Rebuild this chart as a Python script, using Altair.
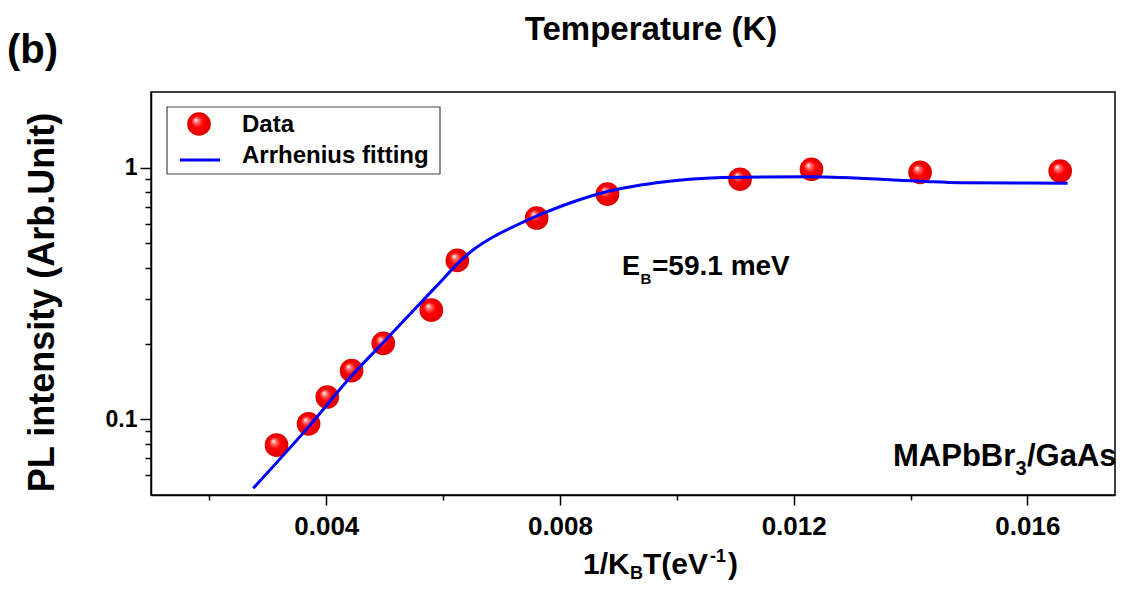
import altair as alt
import pandas as pd

FONT = "Liberation Sans"

# ---- measured data: 1/(kB T) in eV^-1 and normalised PL intensity ----
inv_kT = [0.003149, 0.003697, 0.004017, 0.004433, 0.004976, 0.005798, 0.006243,
          0.007601, 0.008812, 0.011082, 0.012305, 0.014164, 0.016562]
pl_intensity = [0.0789, 0.0959, 0.1226, 0.156, 0.2004, 0.2715, 0.428,
                0.631, 0.785, 0.900, 0.986, 0.959, 0.970]

# ---- Arrhenius fitting curve ----
fit_x = [0.00275, 0.00370, 0.004445, 0.004976, 0.00550, 0.005957, 0.006231,
         0.006527, 0.00687, 0.00720, 0.00760, 0.008183, 0.008812, 0.009382,
         0.009952, 0.011094, 0.012293, 0.014164, 0.014861, 0.016688]
fit_y = [0.0532, 0.0935, 0.150, 0.202, 0.272, 0.352, 0.412,
         0.474, 0.533, 0.5825, 0.6418, 0.7255, 0.8042, 0.854,
         0.8885, 0.917, 0.920, 0.884, 0.872, 0.868]

# ---- axis ticks ----
x_major = [0.004, 0.008, 0.012, 0.016]
x_minor = [0.002, 0.006, 0.010, 0.014]
y_major = [0.1, 1]
y_minor = [0.06, 0.07, 0.08, 0.09, 0.2, 0.3, 0.4, 0.5, 0.6, 0.7, 0.8, 0.9]
x_domain = [0.001, 0.0175]
y_domain = [0.05, 2]

legend_labels = ["Data", "Arrhenius fitting"]

df_pts = pd.DataFrame({"inv_kT": inv_kT, "pl": pl_intensity})
df_fit = pd.DataFrame({"x": fit_x, "y": fit_y})

sphere = alt.RadialGradient(
    gradient="radial", x1=0.36, y1=0.32, r1=0.0, x2=0.5, y2=0.5, r2=0.5,
    stops=[alt.GradientStop(offset=0.0, color="#ffffff"),
           alt.GradientStop(offset=0.22, color="#ff6a6a"),
           alt.GradientStop(offset=0.5, color="#ff0000"),
           alt.GradientStop(offset=1.0, color="#dd0000")])

xscale = alt.Scale(domain=x_domain, nice=False, zero=False)
yscale = alt.Scale(type="log", domain=y_domain, nice=False)

tick_common = dict(tickColor="black", tickWidth=1.5, grid=False, title=None)

major_x = alt.Axis(values=x_major, format=".3f", orient="bottom", tickSize=10,
                   domainColor="black", domainWidth=1.5,
                   labelFont=FONT, labelFontSize=26, labelFontWeight="bold",
                   labelColor="black", labelPadding=8, labelFlush=False,
                   **tick_common)
minor_x = alt.Axis(values=x_minor, orient="bottom", tickSize=5, labels=False,
                   domain=False, **tick_common)
major_y = alt.Axis(values=y_major, format="~g", orient="left", tickSize=11,
                   domainColor="black", domainWidth=1.5,
                   labelFont=FONT, labelFontSize=23, labelFontWeight="bold",
                   labelColor="black", labelPadding=3,
                   tickColor="black", tickWidth=1.5, grid=False,
                   title="PL intensity (Arb.Unit)", titleFont=FONT,
                   titleFontSize=36, titleFontWeight="bold", titleColor="black",
                   titleX=-109, titleY=210, titleAngle=270,
                   titleAlign="center", titleBaseline="middle")
minor_y = alt.Axis(values=y_minor, orient="left", tickSize=6, labels=False,
                   domain=False, **tick_common)

pts = alt.Chart(df_pts).mark_circle(size=560, fill=sphere, opacity=1).encode(
    x=alt.X("inv_kT:Q", scale=xscale, axis=major_x),
    y=alt.Y("pl:Q", scale=yscale, axis=major_y),
)

fit = alt.Chart(df_fit).mark_line(color="#0000ff", strokeWidth=3,
                                  interpolate="monotone").encode(
    x=alt.X("x:Q", scale=xscale, axis=minor_x),
    y=alt.Y("y:Q", scale=yscale, axis=minor_y),
)

one = pd.DataFrame({"k": [0]})


def txt(text, x, y, size, align="left", baseline="alphabetic"):
    return alt.Chart(pd.DataFrame({"t": [text]})).mark_text(
        align=align, baseline=baseline, font=FONT, fontSize=size,
        fontWeight="bold", color="black",
    ).encode(x=alt.value(x), y=alt.value(y), text="t:N")


legend_box = alt.Chart(one).mark_rect(fill="white", stroke="#444444",
                                      strokeWidth=1.2).encode(
    x=alt.value(16), x2=alt.value(289), y=alt.value(15), y2=alt.value(82))
legend_pt = alt.Chart(one).mark_circle(size=560, fill=sphere, opacity=1).encode(
    x=alt.value(48), y=alt.value(32))
legend_line = alt.Chart(one).mark_rule(color="#0000ff", strokeWidth=3).encode(
    x=alt.value(29), x2=alt.value(69), y=alt.value(68))

texts = [
    txt(legend_labels[0], 91, 33, 24, baseline="middle"),
    txt(legend_labels[1], 91, 64, 24, baseline="middle"),
    txt("(b)", -144, -29, 40),
    txt("Temperature (K)", 500, -52, 33, align="center"),
    # x-axis title 1/K_B T (eV^-1)
    txt("1/K", 432, 482, 30),
    txt("B", 479, 487, 18),
    txt("T(eV", 492, 482, 30),
    txt("-1", 559, 470, 18),
    txt(")", 577, 482, 30),
    # E_B annotation
    txt("E", 471, 183, 27),
    txt("B", 489.5, 192, 15),
    txt("=59.1 meV", 501, 183, 28),
    # sample label
    txt("MAPbBr", 742, 374, 31),
    txt("3", 864.5, 383, 20),
    txt("/GaAs", 876, 374, 31),
]

chart = alt.layer(pts, fit, legend_box, legend_pt, legend_line, *texts).resolve_axis(
    x="independent", y="independent"
).properties(
    width=964, height=403,
    autosize=alt.AutoSizeParams(type="none"),
    padding={"left": 143, "top": 84, "right": 11, "bottom": 89},
    background="white",
).configure_view(stroke="black", strokeWidth=1.5)

chart.save("out.html", embed_options={"renderer": "svg", "actions": False})
